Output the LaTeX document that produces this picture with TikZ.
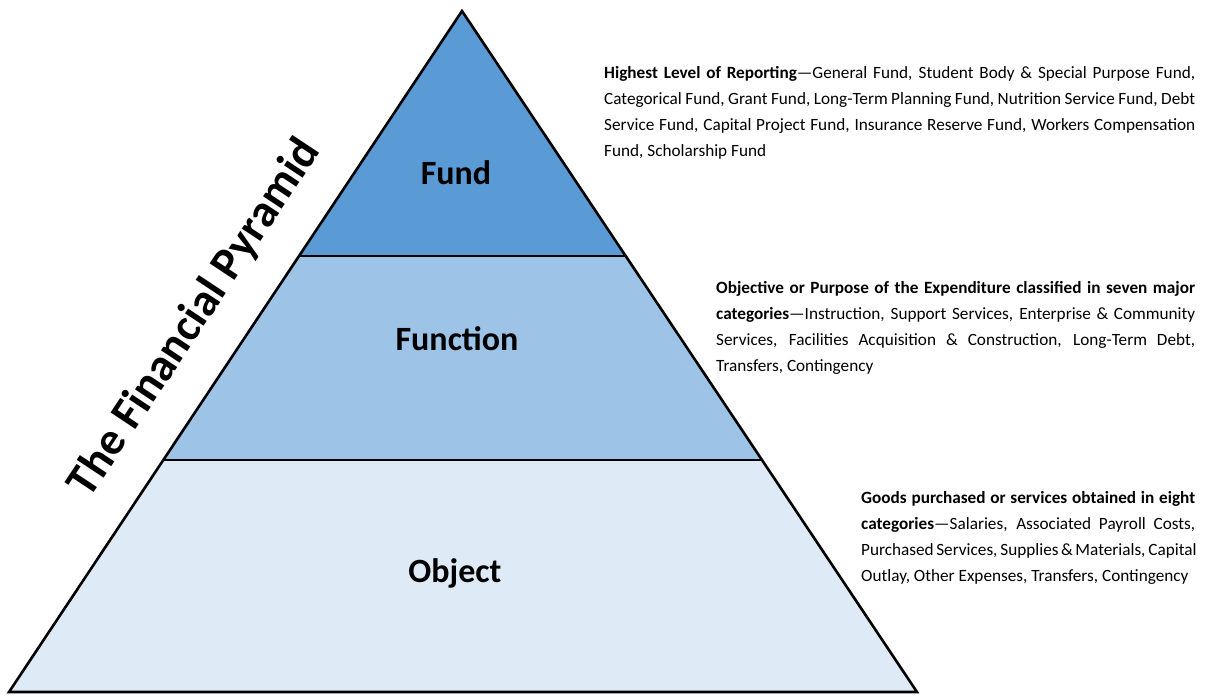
\documentclass[tikz,border=0pt]{standalone}
\usepackage{fontspec}
\setmainfont{Carlito}
\usetikzlibrary{calc}
\definecolor{fundc}{HTML}{5B9BD5}
\definecolor{funcc}{HTML}{9DC3E6}
\definecolor{objc}{HTML}{DEEBF7}
\tikzset{
  layer/.style={draw=black, line width=2.6pt, line join=miter},
  divider/.style={draw=black, line width=2.2pt},
  lvl/.style={font=\bfseries\fontsize{34}{40}\selectfont, inner sep=0pt},
  desc/.style={anchor=base west, inner sep=0pt, font=\fontsize{17.2}{26.3}\selectfont},
}
\newcommand{\jline}[1]{\makebox[\linewidth][s]{#1}\\}
\begin{document}
\begin{tikzpicture}[x=1pt,y=-1pt]
\useasboundingbox (0,0) rectangle (1231,696);
\coordinate (A) at (462,11);
\coordinate (L) at (9,692);
\coordinate (R) at (917,692);
\coordinate (L1) at ($(A)!0.3598!(L)$);
\coordinate (R1) at ($(A)!0.3598!(R)$);
\coordinate (L2) at ($(A)!0.6593!(L)$);
\coordinate (R2) at ($(A)!0.6593!(R)$);
\fill[objc] (L2) -- (R2) -- (R) -- (L) -- cycle;
\fill[funcc] (L1) -- (R1) -- (R2) -- (L2) -- cycle;
\fill[fundc] (A) -- (R1) -- (L1) -- cycle;
\draw[divider] (L1) -- (R1);
\draw[divider] (L2) -- (R2);
\draw[layer] (A) -- (R) -- (L) -- cycle;
\node[lvl] (fund) at (456,173) {Fund};
\node[lvl] (function) at (457,339) {Function};
\node[lvl] (object) at (455,573) {Object};
\node[font=\bfseries\fontsize{46}{50}\selectfont, rotate=56.4, inner sep=0pt] (title) at (195,318) {The Financial Pyramid};
\node[desc] (d1) at (604,78) {\parbox[t]{591pt}{\setlength{\baselineskip}{26.3pt}%
\jline{\textbf{Highest Level of Reporting}—General Fund, Student Body \& Special Purpose Fund,}
\jline{Categorical Fund, Grant Fund, Long-Term Planning Fund, Nutrition Service Fund, Debt}
\jline{Service Fund, Capital Project Fund, Insurance Reserve Fund, Workers Compensation}
Fund, Scholarship Fund}};
\node[desc] (d2) at (716,293) {\parbox[t]{479pt}{\setlength{\baselineskip}{26.3pt}%
\jline{\textbf{Objective or Purpose of the Expenditure classified in seven major}}
\jline{\textbf{categories}—Instruction, Support Services, Enterprise \& Community}
\jline{Services, Facilities Acquisition \& Construction, Long-Term Debt,}
Transfers, Contingency}};
\node[desc] (d3) at (861,503) {\parbox[t]{334pt}{\setlength{\baselineskip}{26.3pt}%
\jline{\textbf{Goods purchased or services obtained in eight}}
\jline{\textbf{categories}—Salaries, Associated Payroll Costs,}
\jline{Purchased Services, Supplies \& Materials, Capital}
Outlay, Other Expenses, Transfers, Contingency}};
\end{tikzpicture}
\end{document}
